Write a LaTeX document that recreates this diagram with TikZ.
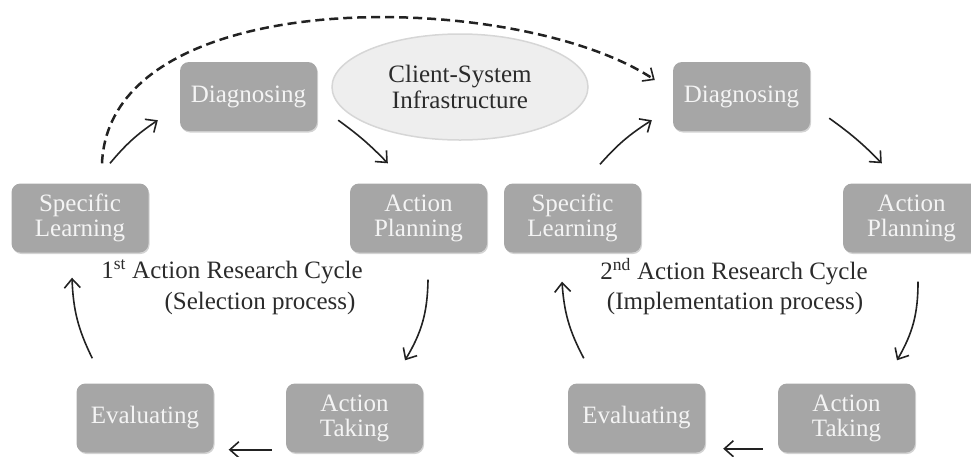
\documentclass[tikz,border=0pt]{standalone}
\usepackage{fontspec}
\setmainfont{Liberation Serif}
\usetikzlibrary{shapes.geometric,arrows.meta,calc,shadows}
\definecolor{boxgray}{HTML}{A6A6A6}
\definecolor{boxtext}{HTML}{F4F4F4}
\definecolor{ellfill}{HTML}{EEEEEE}
\definecolor{elldraw}{HTML}{D6D6D6}
\definecolor{lbldark}{HTML}{2B2B2B}
\definecolor{arrowblk}{HTML}{222222}
\begin{document}
\begin{tikzpicture}[x=1pt,y=-1pt,
  box/.style={rectangle, rounded corners=9pt, fill=boxgray, text=boxtext,
    minimum width=137pt, minimum height=69pt, align=center, inner sep=0pt,
    font=\fontsize{25}{25}\selectfont,
    drop shadow={shadow xshift=1pt,shadow yshift=-1.5pt,opacity=0.35}},
  flow/.style={-{Straight Barb[length=9pt,width=16pt,line width=1.6pt]}, line width=1.6pt, draw=arrowblk},
  lbl/.style={font=\fontsize{25}{26}\selectfont, text=lbldark, inner sep=0pt}]
\useasboundingbox (0,0) rectangle (971,456);
% first cycle
\node[box] (D1) at (248.5,96.5) {Diagnosing};
\node[box] (S1) at (80,218) {Specific\\Learning};
\node[box] (P1) at (418.5,218) {Action\\Planning};
\node[box] (E1) at (145,418) {Evaluating};
\node[box] (T1) at (354.5,418) {Action\\Taking};
% second cycle
\node[box] (D2) at (741.5,96.5) {Diagnosing};
\node[box] (S2) at (572.5,218) {Specific\\Learning};
\node[box] (P2) at (911.5,218) {Action\\Planning};
\node[box] (E2) at (636.5,418) {Evaluating};
\node[box] (T2) at (846.5,418) {Action\\Taking};
% ellipse
\node[ellipse, fill=ellfill, draw=elldraw, line width=1.5pt, minimum width=256pt,
  minimum height=106pt, align=center, text=lbldark, inner sep=0pt,
  font=\fontsize{25}{26}\selectfont] (C) at (460,87) {Client-System\\Infrastructure};
% labels
\node[lbl] (L1) at (232,272) {1\textsuperscript{st} Action Research Cycle};
\node[lbl] (L1b) at (260,303) {(Selection process)};
\node[lbl] (L2) at (734,272) {2\textsuperscript{nd} Action Research Cycle};
\node[lbl] (L2b) at (735,303) {(Implementation process)};
% arrows cycle 1
\draw[flow] ($(S1.north)+(30,-20)$) to[bend left=8] ($(D1.south west)+(-22,-11)$);
\draw[flow] ($(D1.south east)+(21,-11)$) to[bend left=5] ($(P1.north west)+(38,-20)$);
\draw[flow] ($(P1.south)+(9.5,27)$) to[bend left=15] ($(T1.north)+(50.5,-23)$);
\draw[flow] ($(T1.south west)+(-14,-3)$) -- ($(E1.south east)+(15,-3)$);
\draw[flow] ($(E1.north west)+(16,-25)$) to[bend left=12] ($(S1.south)+(-8,25)$);
% arrows cycle 2
\draw[flow] ($(S2.north)+(27.5,-19)$) to[bend left=8] ($(D2.south west)+(-21,-11)$);
\draw[flow] ($(D2.south east)+(19,-13)$) to[bend left=5] ($(P2.north west)+(39,-20)$);
\draw[flow] ($(P2.south)+(6.5,29)$) to[bend left=15] ($(T2.north)+(50.5,-23)$);
\draw[flow] ($(T2.south west)+(-15,-4)$) -- ($(E2.south east)+(18,-4)$);
\draw[flow] ($(E2.north west)+(16,-25)$) to[bend left=12] ($(S2.south)+(-10.5,29)$);
% dashed link
\draw[-{Straight Barb[length=9pt,width=16pt,line width=1.6pt]}, line width=2.5pt, draw=arrowblk,
  dash pattern=on 9pt off 5pt]
  ($(S1.north)+(22,-20)$) .. controls (110,-20) and (520,-10) .. ($(D2.west)+(-18,-16.5)$);
\end{tikzpicture}
\end{document}
